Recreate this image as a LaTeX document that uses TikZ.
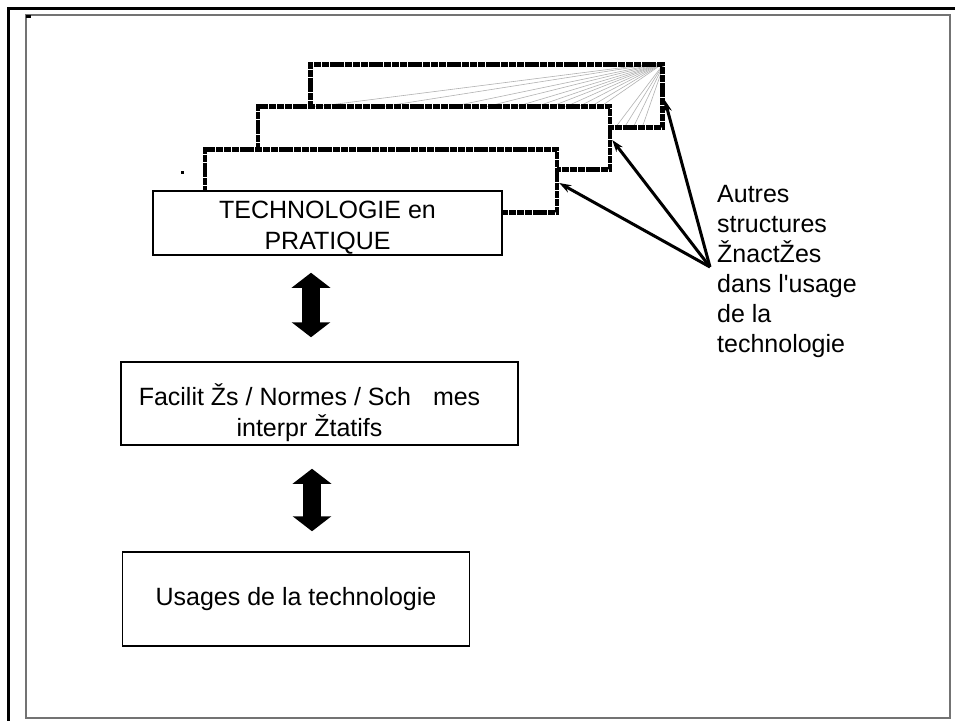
\documentclass[tikz,border=0pt]{standalone}
\usepackage{fontspec}
\newfontfamily\arialfont{Liberation Sans}
\usetikzlibrary{arrows.meta,calc}

\begin{document}
\begin{tikzpicture}[x=1pt,y=-1pt]
\tikzset{box/.style = {shape=rectangle,draw,fill=white,line width=1.5pt,inner sep=0pt}}
\tikzset{boxtext/.style = {align=center,inner sep=0pt,font=\arialfont\fontsize{25}{31}\selectfont}}
\tikzset{layer/.style = {shape=rectangle,draw,fill=white,line width=4.5pt,dash pattern=on 7pt off 0.8pt,minimum width=352pt,minimum height=63pt}}
\tikzset{fanline/.style = {gray!60,line width=0.6pt}}
\tikzset{link/.style = {line width=3pt,-{Stealth[length=12pt,width=8pt]}}}
\tikzset{bigarrow/.style = {line width=18pt,{Triangle[length=15pt,width=38pt]}-{Triangle[length=15pt,width=38pt]}}}

\useasboundingbox (0,0) rectangle (955,721);
% frame
\draw[line width=3pt] (955,8) -- (8,8) -- (8,721);
\draw[black!55,line width=1.5pt] (26,15) rectangle (950,718);
\fill (26,15) rectangle (31,18);

% stacked structures
\node[layer] (back3) at (486.5,96) {};
\begin{scope}
\clip (back3.south west) rectangle (back3.north east);
\foreach \x in {313,380,450,485,515,535,550,565,578,590,600}
  \draw[fanline] (back3.north east) -- ($(back3.north east)!3!(\x,107)$);
\foreach \x in {615,624,633,642}
  \draw[fanline] (back3.north east) -- (\x,128);
\end{scope}
\node[layer,fill=none] at (back3) {};
\node[layer] (back2) at (434,138) {};
\node[layer] (back1) at (381,181) {};
\fill (181,171) rectangle (184,174);

% boxes
\node[box,minimum width=349pt,minimum height=64pt] (tech) at (327.5,223) {};
\node[boxtext] at ([yshift=-5pt]tech.center) {TECHNOLOGIE en\\PRATIQUE};
\node[box,minimum width=397pt,minimum height=83pt] (facil) at (319.5,403.5) {};
\node[boxtext] at ([xshift=-10pt,yshift=-9pt]facil.center) {Facilit Žs / Normes / Sch\hspace{22pt}mes\\interpr Žtatifs};
\node[box,minimum width=347pt,minimum height=94pt] (usages) at (296,599) {};
\node[boxtext] at (usages.center) {Usages de la technologie};

% big arrows
\draw[bigarrow] ([xshift=-16.5pt,yshift=-17pt]tech.south) -- ([xshift=-8.5pt,yshift=24pt]facil.north);
\draw[bigarrow] ([xshift=-7.5pt,yshift=-23pt]facil.south) -- ([xshift=16pt,yshift=20pt]usages.north);

% note
\node[anchor=north west,align=left,inner sep=0pt,font=\arialfont\fontsize{25}{30}\selectfont] (note) at (717,185) {Autres\\structures\\ŽnactŽes\\dans l'usage\\de la\\technologie};
\coordinate (src) at (710,267);
\draw[link] (src) -- ([yshift=-4pt]back3.east);
\draw[link] (src) -- ([yshift=-2pt]back2.east);
\draw[link] (src) -- ([yshift=-2pt]back1.east);

\end{tikzpicture}
\end{document}
